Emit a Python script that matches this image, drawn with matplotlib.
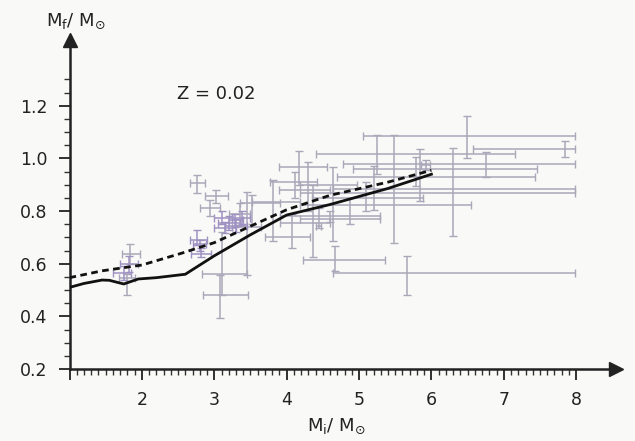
import numpy as np
import matplotlib
matplotlib.use('Agg')
import matplotlib.pyplot as plt
from matplotlib.ticker import FixedLocator, NullFormatter

# model curves (initial mass vs final mass)
solid_mi = [1.0, 1.2, 1.45, 1.55, 1.75, 1.95, 2.2, 2.6, 3.0, 3.5, 4.0, 4.6, 5.4, 6.0]
solid_mf = [0.51, 0.525, 0.538, 0.537, 0.523, 0.542, 0.547, 0.56, 0.63, 0.71, 0.785, 0.825, 0.886, 0.94]
dash_mi = [1.0, 1.45, 2.0, 2.55, 3.0, 3.6, 4.0, 4.6, 5.4, 6.0]
dash_mf = [0.547, 0.573, 0.595, 0.64, 0.68, 0.755, 0.805, 0.86, 0.91, 0.955]

# observed points, grey ones: centre and error-bar edges
grey_mi = [6.49, 7.84, 5.25, 6.75, 6.30, 5.48, 5.66, 4.67, 5.84, 5.79, 5.92, 5.20, 5.09, 4.88, 4.64,
           4.37, 4.44, 4.30, 4.17, 4.11, 3.815, 4.07, 4.60, 3.45, 3.52, 3.08, 3.10, 2.76, 3.03, 2.94,
           3.355, 1.84, 1.80]
grey_mf = [1.086, 1.036, 1.017, 0.977, 0.867, 0.884, 0.564, 0.615, 0.93, 0.961, 0.975, 0.824, 0.851, 0.77, 0.90,
           0.755, 0.745, 0.88, 0.967, 0.911, 0.834, 0.70, 0.78, 0.74, 0.83, 0.48, 0.561, 0.905, 0.859, 0.811,
           0.79, 0.636, 0.545]
grey_mi_lo = [5.06, 6.57, 4.41, 4.78, 4.18, 4.64, 4.64, 4.22, 4.69, 4.92, 5.86, 4.18, 4.35, 4.18, 4.18,
              3.91, 4.40, 3.90, 3.89, 3.77, 3.52, 3.70, 3.91, 3.25, 3.35, 2.84, 2.83, 2.66, 2.87, 2.80,
              3.20, 1.72, 1.68]
grey_mi_hi = [7.98, 7.98, 7.15, 7.98, 7.98, 7.98, 7.98, 5.36, 7.43, 7.46, 5.98, 6.54, 5.89, 5.29, 4.97,
              4.60, 4.48, 4.60, 4.56, 4.42, 4.18, 4.32, 5.29, 3.65, 3.91, 3.47, 3.45, 2.87, 3.19, 3.08,
              3.50, 1.97, 1.90]
grey_mf_lo = [1.001, 1.005, 0.942, 0.930, 0.705, 0.680, 0.481, 0.574, 0.837, 0.894, 0.955, 0.805, 0.799, 0.75, 0.687,
              0.624, 0.736, 0.80, 0.899, 0.85, 0.687, 0.66, 0.76, 0.557, 0.75, 0.393, 0.48, 0.867, 0.83, 0.78,
              0.749, 0.60, 0.48]
grey_mf_hi = [1.163, 1.067, 1.088, 1.024, 1.039, 1.088, 0.630, 0.668, 1.036, 1.006, 0.995, 0.973, 0.911, 0.849, 0.967,
              0.899, 0.811, 0.986, 1.03, 0.95, 0.917, 0.79, 0.80, 0.874, 0.86, 0.557, 0.72, 0.936, 0.88, 0.842,
              0.83, 0.675, 0.56]

# purple-ish small crosses (dense clusters)
purp_mi = [3.10, 3.20, 3.30, 3.15, 3.28, 3.38, 2.76, 2.80, 2.82, 1.82, 1.75]
purp_mf = [0.775, 0.755, 0.745, 0.735, 0.765, 0.775, 0.69, 0.674, 0.636, 0.60, 0.565]
purp_mi_lo = [3.0, 3.05, 3.15, 3.0, 3.2, 3.25, 2.66, 2.70, 2.68, 1.70, 1.60]
purp_mi_hi = [3.25, 3.35, 3.45, 3.3, 3.4, 3.5, 2.90, 2.88, 2.95, 1.95, 1.85]
purp_mf_lo = [0.75, 0.73, 0.72, 0.715, 0.74, 0.75, 0.67, 0.65, 0.624, 0.57, 0.54]
purp_mf_hi = [0.80, 0.78, 0.77, 0.76, 0.79, 0.80, 0.73, 0.69, 0.66, 0.63, 0.59]

x_major = [1, 2, 3, 4, 5, 6, 7, 8]
x_labels = ['', '2', '3', '4', '5', '6', '7', '8']
y_major = [0.2, 0.4, 0.6, 0.8, 1.0, 1.2]

fig = plt.figure(figsize=(6.35, 4.41), dpi=100)
fig.patch.set_facecolor('#f9f9f7')
ax = fig.add_axes([69.5 / 635, 72 / 441, 546.5 / 635, 329 / 441])
ax.set_facecolor('#f9f9f7')


def draw_bars(mi, mf, lo_x, hi_x, lo_y, hi_y, col):
    mi = np.array(mi); mf = np.array(mf)
    xerr = [mi - np.array(lo_x), np.array(hi_x) - mi]
    yerr = [mf - np.array(lo_y), np.array(hi_y) - mf]
    ax.errorbar(mi, mf, xerr=xerr, yerr=yerr, fmt='none', ecolor=col,
                elinewidth=1.1, capsize=2.6, capthick=1.0, zorder=2)


draw_bars(grey_mi, grey_mf, grey_mi_lo, grey_mi_hi, grey_mf_lo, grey_mf_hi, '#aaa7b9')
draw_bars(purp_mi, purp_mf, purp_mi_lo, purp_mi_hi, purp_mf_lo, purp_mf_hi, '#9e92c2')

ax.plot(solid_mi, solid_mf, color='#111111', lw=2.0, zorder=4)
ax.plot(dash_mi, dash_mf, color='#111111', lw=2.0, ls=(0, (2.4, 1.6)), zorder=4)

ax.text(2.49, 1.245, 'Z = 0.02', fontsize=13, ha='left', va='center', color='#222222')

ax.set_xlim(1, 8.55)
ax.set_ylim(0.2, 1.45)
for s in ['top', 'right']:
    ax.spines[s].set_visible(False)
for s in ['left', 'bottom']:
    ax.spines[s].set_linewidth(1.8)
    ax.spines[s].set_color('#222222')

ax.xaxis.set_major_locator(FixedLocator(x_major))
ax.set_xticklabels(x_labels)
ax.xaxis.set_minor_locator(FixedLocator(np.arange(1, 8.05, 0.1)))
ax.yaxis.set_major_locator(FixedLocator(y_major))
ax.set_yticklabels(['%.1f' % v for v in y_major])
ax.yaxis.set_minor_locator(FixedLocator(np.arange(0.2, 1.31, 0.05)))
ax.xaxis.set_minor_formatter(NullFormatter())
ax.tick_params(axis='both', which='major', direction='out', length=8, width=1.3,
               labelsize=12.5, colors='#222222', pad=8)
ax.tick_params(axis='both', which='minor', direction='out', length=4, width=1.0, colors='#333333')

# arrow heads on the axes
ax.plot(1, 0, marker='>', ms=10, color='#222222', transform=ax.transAxes, clip_on=False)
ax.plot(0, 1, marker='^', ms=10, color='#222222', transform=ax.transAxes, clip_on=False)

fig.text(76 / 635, 1 - 21 / 441, r'$\mathregular{M_f/\ M_{⊙}}$', fontsize=13,
         ha='center', va='center', color='#222222')
fig.text(336 / 635, 1 - 426 / 441, r'$\mathregular{M_i/\ M_{⊙}}$', fontsize=13,
         ha='center', va='center', color='#222222')

fig.savefig('out.png', dpi=100, facecolor=fig.get_facecolor())
